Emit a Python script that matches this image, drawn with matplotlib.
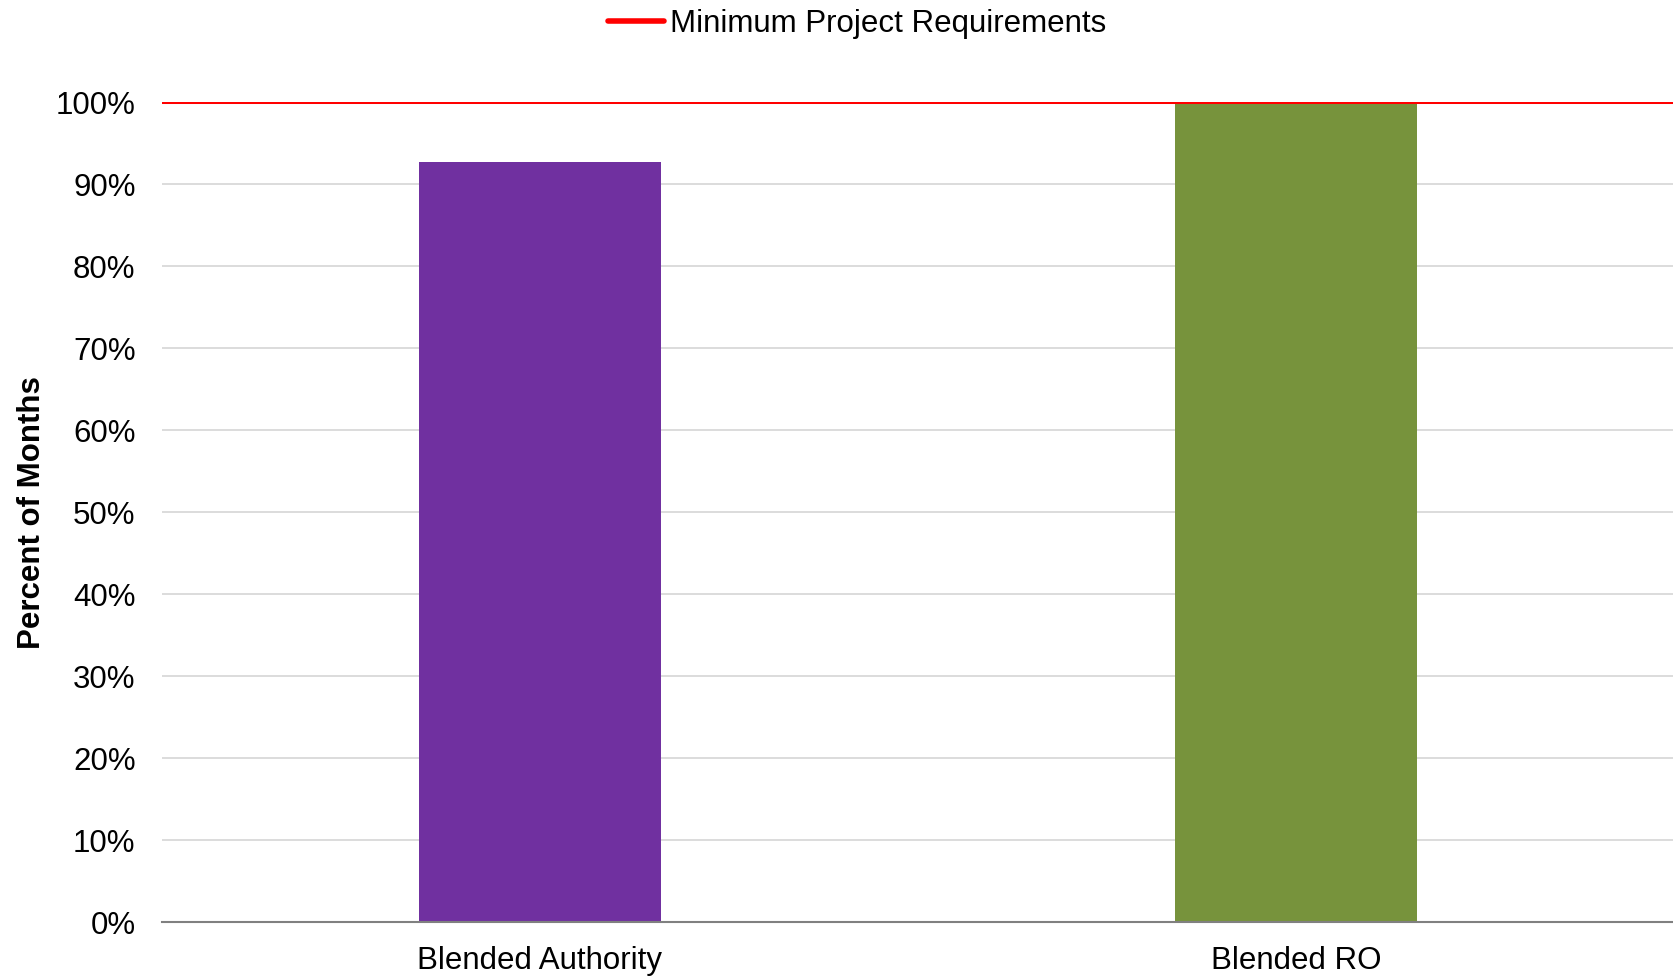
import numpy as np
import matplotlib.pyplot as plt
from matplotlib.ticker import PercentFormatter
from matplotlib.lines import Line2D

plt.rcParams['font.family'] = ['Liberation Sans', 'DejaVu Sans']

categories = ['Blended Authority', 'Blended RO']
percent_months = [92.7, 100.0]
bar_colors = ['#7030a0', '#77933c']
min_requirement = 100.0
y_ticks = np.arange(0, 101, 10)

fig = plt.figure(figsize=(16.74, 9.8), dpi=100)
ax = fig.add_axes([162/1674, 1 - 922/980, 1 - 162/1674, (922 - 102.5)/980])

x = np.arange(len(categories))
ax.bar(x, percent_months, width=0.32, color=bar_colors, zorder=2)
ax.axhline(min_requirement, color='#ff0000', lw=2.9, zorder=3)

ax.set_xlim(-0.5, 1.5)
ax.set_ylim(0, 100)
ax.set_yticks(y_ticks)
ax.yaxis.set_major_formatter(PercentFormatter(decimals=0))
ax.set_xticks(x)
ax.set_xticklabels(categories)
ax.tick_params(axis='both', length=0, labelsize=22.5)
ax.tick_params(axis='y', pad=19)
ax.tick_params(axis='x', pad=17)
ax.grid(axis='y', color='#d9d9d9', lw=1.3, zorder=0)
for s in ['left', 'right', 'top']:
    ax.spines[s].set_visible(False)
ax.spines['bottom'].set_color('#808080')
ax.spines['bottom'].set_linewidth(1.5)
ax.spines['bottom'].set_zorder(4)
ax.set_ylabel('Percent of Months', fontsize=22.5, fontweight='bold', labelpad=6)

handle = Line2D([], [], color='#ff0000', lw=4, solid_capstyle='round')
fig.legend(handles=[handle], labels=['Minimum Project Requirements'],
           loc='upper center', bbox_to_anchor=(0.512, 1.02),
           frameon=False, fontsize=22.5, handlelength=1.8, handletextpad=0.2)

fig.savefig('out.png', dpi=100)
